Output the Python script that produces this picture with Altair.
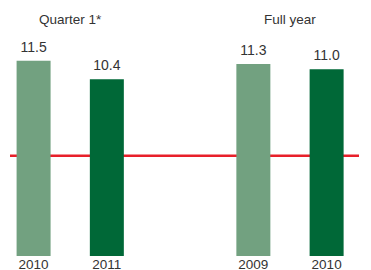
import altair as alt
import pandas as pd

# Data
periods = ["Quarter 1*", "Quarter 1*", "Full year", "Full year"]
years = ["2010", "2011", "2009", "2010"]
values = [11.5, 10.4, 11.3, 11.0]
shade = ["prior", "current", "prior", "current"]
reference_value = [5.9]
group_titles = ["Quarter 1*", "Full year"]

keys = [f"{p} {y}" for p, y in zip(periods, years)]
domain = keys[:2] + [" "] + keys[2:]

bars_df = pd.DataFrame({"key": keys, "year": years, "value": values, "shade": shade})
ref_df = pd.DataFrame({"ref": reference_value})
titles_df = pd.DataFrame({"title": group_titles, "key": [keys[0], keys[2]]})

FONT = "Liberation Sans"
TEXT = "#333333"

x_scale = alt.Scale(domain=domain, paddingInner=0.536, paddingOuter=0.15, align=0.3)
y_scale = alt.Scale(domain=[0, 14.6], nice=False, zero=True)

x_enc = alt.X(
    "key:N",
    scale=x_scale,
    sort=domain,
    axis=alt.Axis(
        title=None,
        domain=False,
        ticks=False,
        grid=False,
        labelAngle=0,
        labelExpr="slice(datum.value, -4)",
        labelFont=FONT,
        labelFontSize=13.5,
        labelColor=TEXT,
        labelPadding=1,
    ),
)

rule = alt.Chart(ref_df).mark_rule(color="#e8202a", strokeWidth=2.5).encode(
    y=alt.Y("ref:Q", scale=y_scale, axis=None)
)

bars = alt.Chart(bars_df).mark_bar().encode(
    x=x_enc,
    y=alt.Y("value:Q", scale=y_scale, axis=None),
    color=alt.Color(
        "shade:N",
        scale=alt.Scale(domain=["prior", "current"], range=["#72a180", "#006837"]),
        legend=None,
    ),
)

labels = alt.Chart(bars_df).mark_text(
    baseline="bottom", dy=-6, font=FONT, fontSize=14, color=TEXT
).encode(
    x=alt.X("key:N", scale=x_scale, sort=domain),
    y=alt.Y("value:Q", scale=y_scale),
    text=alt.Text("value:Q", format=".1f"),
)

titles = alt.Chart(titles_df).mark_text(
    baseline="middle", dx=36.6, font=FONT, fontSize=13.5, color=TEXT
).encode(
    x=alt.X("key:N", scale=x_scale, sort=domain),
    y=alt.value(12),
    text="title:N",
)

chart = (
    alt.layer(rule, bars, labels, titles)
    .properties(width=349, height=248, padding=0)
    .configure_view(strokeWidth=0)
)

chart.save("out.html", embed_options={"renderer": "svg", "actions": False})
